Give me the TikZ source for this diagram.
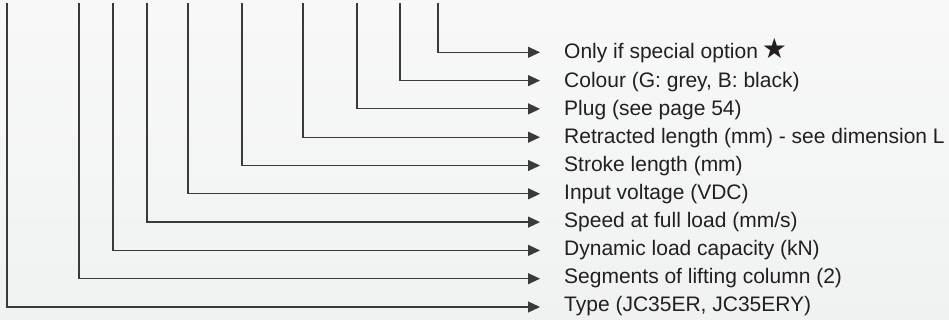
\documentclass[tikz,border=0pt]{standalone}
\usepackage{fontspec}
\setmainfont{Liberation Sans}
\newfontfamily\symfont{DejaVu Sans}
\usetikzlibrary{arrows.meta}
\definecolor{bgA}{HTML}{F8F8F8}
\definecolor{bgB}{HTML}{F0F2F2}
\definecolor{lineC}{HTML}{3A3A3A}
\definecolor{textC}{HTML}{231F20}
\tikzset{
  lead/.style={draw=lineC, line width=1.2pt, -{Triangle[length=12pt,width=11pt]}, fill=none},
  lbl/.style={anchor=base west, inner sep=0pt, text=textC, font=\fontsize{21}{23}\selectfont},
}
\begin{document}
\begin{tikzpicture}[x=1pt,y=-1pt]
\useasboundingbox (0,0) rectangle (949,320);
\shade[left color=bgA, right color=bgB, shading angle=0] (0,0) rectangle (949,320);
\foreach \i/\x/\t in {
  0/438/{Only if special option\hspace{4pt}{\symfont\fontsize{28}{30}\selectfont ★}},
  1/400/{Colour (G: grey, B: black)},
  2/357/{Plug (see page 54)},
  3/303/{Retracted length (mm) - see dimension L},
  4/242/{Stroke length (mm)},
  5/188/{Input voltage (VDC)},
  6/147/{Speed at full load (mm/s)},
  7/113/{Dynamic load capacity (kN)},
  8/79/{Segments of lifting column (2)},
  9/7/{Type (JC35ER, JC35ERY)}} {
  \pgfmathsetmacro{\yy}{52.3+28.3*\i}
  \pgfmathsetmacro{\yb}{59+28.08*\i}
  \coordinate (t\i) at (\x,3);
  \coordinate (e\i) at (540,\yy);
  \node[lbl] (l\i) at (564,\yb) {\t};
  \draw[lead] (t\i) |- (e\i);
}
\end{tikzpicture}
\end{document}
